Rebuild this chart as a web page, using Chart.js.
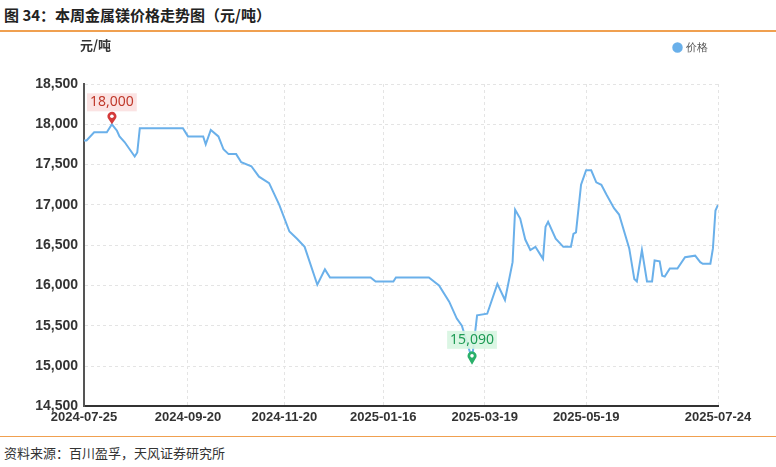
<!DOCTYPE html>
<html><head><meta charset="utf-8">
<script src="https://cdn.jsdelivr.net/npm/chart.js@4"></script>
<style>
body{margin:0;width:776px;height:467px;background:#fff;font-family:"Noto Sans CJK SC","Noto Sans",sans-serif;position:relative;overflow:hidden}
#title{position:absolute;left:4px;top:4px;font-size:15px;font-weight:bold;color:#222}
#l1{position:absolute;left:0;top:30px;width:776px;height:2px;background:#f0a050}
#l2{position:absolute;left:0;top:436px;width:776px;height:1px;background:#f0a050}
#src{position:absolute;left:4px;top:443px;font-size:13px;color:#333}
#wrap{position:absolute;left:0;top:32px;width:776px;height:396px}
</style></head><body>
<div id="title">图 34：本周金属镁价格走势图（元/吨）</div>
<div id="l1"></div>
<div id="wrap"><canvas id="c"></canvas></div>
<div id="l2"></div>
<div id="src">资料来源：百川盈孚，天风证券研究所</div>
<script>
const dayIndex=[0,1,4,9,11,13,14,16,20,21,22,39,41,47,48,50,53,55,57,60,62,66,69,73,77,81,84,87,92,95,97,113,115,122,123,136,138,140,144,147,149,153,155,159,163,166,169,170,172,174,176,178,180,181,182,183,186,189,192,193,194,196,198,200,202,204,206,209,211,215,217,218,220,222,224,225,227,228,229,231,234,237,241,243,244,247,248,249,250];
const prices=[17800,17800,17900,17900,18000,17920,17850,17780,17600,17650,17950,17950,17850,17850,17750,17930,17850,17690,17630,17630,17530,17480,17350,17270,17000,16670,16580,16480,16010,16200,16100,16100,16050,16050,16100,16100,16050,16000,15800,15590,15500,15090,15630,15650,16020,15820,16290,16940,16830,16570,16440,16480,16380,16330,16730,16790,16580,16480,16480,16640,16660,17250,17430,17430,17280,17250,17130,16960,16880,16460,16080,16050,16440,16050,16050,16310,16300,16120,16110,16210,16210,16350,16370,16290,16270,16270,16460,16930,17000];
const tickIdx=[0,41,79,118,158,198,250];
const tickLabels=["2024-07-25","2024-09-20","2024-11-20","2025-01-16","2025-03-19","2025-05-19","2025-07-24"];
const yTicks=[14500,15000,15500,16000,16500,17000,17500,18000,18500];
const seriesName="价格", unit="元/吨";
const pts=dayIndex.map((x,i)=>({x,y:prices[i]}));
const fmt=v=>v.toLocaleString('en-US');
const legendPad={id:'legendPad',beforeInit(ch){const f=ch.legend.fit;ch.legend.fit=function(){f.call(this);this.height+=21;};}};
const marks={
 id:'marks',
 afterDatasetsDraw(ch){
  const c=ch.ctx,xs=ch.scales.x,ys=ch.scales.y;
  const mx=Math.max(...prices),mn=Math.min(...prices);
  const im=prices.indexOf(mx),ie=prices.indexOf(mn);
  c.save();
  c.font='14px "Noto Sans","Noto Sans CJK SC"';c.textAlign='center';c.textBaseline='middle';
  let x=xs.getPixelForValue(dayIndex[im]),y=ys.getPixelForValue(mx);
  c.fillStyle='#d43a3a';c.beginPath();c.moveTo(x,y);c.lineTo(x-4,y-6);c.arc(x,y-8,4.5,Math.PI*0.8,Math.PI*0.2);c.closePath();c.fill();
  c.fillStyle='#fff';c.beginPath();c.arc(x,y-8,1.8,0,7);c.fill();
  let t=fmt(mx),w=c.measureText(t).width+6;
  c.fillStyle='rgba(250,220,220,0.8)';c.fillRect(x-w/2,y-31,w,18);
  c.fillStyle='#c0392b';c.fillText(t,x,y-22);
  x=xs.getPixelForValue(dayIndex[ie]);y=ys.getPixelForValue(mn);
  c.fillStyle='#2ab06a';c.beginPath();c.moveTo(x,y+6);c.lineTo(x-4,y-1);c.arc(x,y-3,4.5,Math.PI*0.8,Math.PI*0.2);c.closePath();c.fill();
  c.fillStyle='#fff';c.beginPath();c.arc(x,y-3,1.8,0,7);c.fill();
  t=fmt(mn);w=c.measureText(t).width+6;
  c.fillStyle='rgba(215,245,225,0.9)';c.fillRect(x-w/2,y-28,w,18);
  c.fillStyle='#1e9b55';c.fillText(t,x,y-19);
  c.font='bold 13px "Noto Sans CJK SC"';c.fillStyle='#333';c.textAlign='left';
  c.fillText(unit,80,13);
  c.restore();
 }
};
new Chart(document.getElementById('c'),{
 type:'line',
 data:{datasets:[{label:seriesName,data:pts,borderColor:'#6ab0ea',backgroundColor:'#6ab0ea',borderWidth:2,pointRadius:0,tension:0}]},
 options:{responsive:true,maintainAspectRatio:false,animation:false,
  layout:{padding:{top:0,right:58,left:0,bottom:0}},
  plugins:{legend:{position:'top',align:'end',labels:{usePointStyle:true,pointStyle:'circle',boxWidth:6,boxHeight:6,font:{size:11},color:'#555'}},tooltip:{enabled:false}},
  scales:{
   x:{type:'linear',min:0,max:250,
    afterBuildTicks:a=>{a.ticks=tickIdx.map(v=>({value:v}));},
    ticks:{autoSkip:false,maxRotation:0,callback:(v)=>tickLabels[tickIdx.indexOf(v)],color:'#333',font:{size:13,weight:'bold'}},
    grid:{color:'#e4e4e4',drawTicks:false},border:{color:'#333',width:2,dash:[3,3],display:true}},
   y:{min:14500,max:18500,
    afterBuildTicks:a=>{a.ticks=yTicks.map(v=>({value:v}));},
    afterFit:a=>{a.width=84;},
    ticks:{callback:v=>fmt(v),color:'#333',font:{size:14,weight:'bold'},padding:6},
    grid:{color:'#e4e4e4',drawTicks:false},border:{color:'#555',width:2,dash:[3,3]}}
  }},
 plugins:[legendPad,marks]
});
</script></body></html>
